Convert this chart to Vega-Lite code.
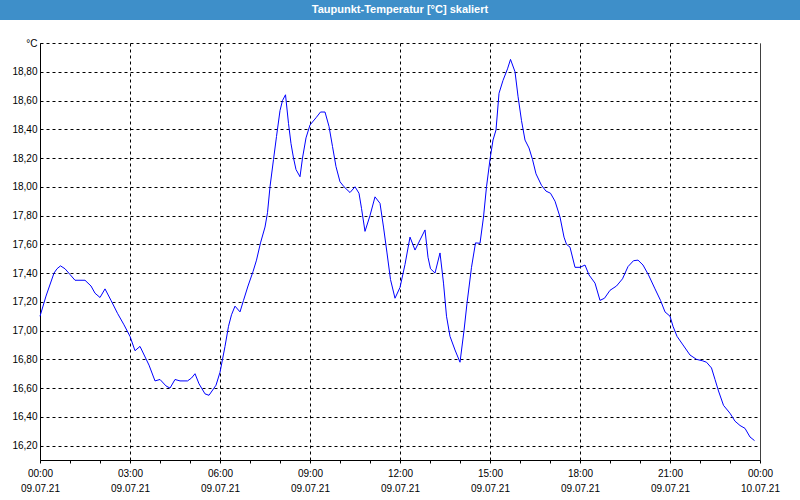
{
  "$schema": "https://vega.github.io/schema/vega-lite/v6.json",
  "width": 720,
  "height": 417,
  "autosize": {"type": "none"},
  "padding": {"left": 40, "top": 43, "right": 40, "bottom": 40},
  "background": "white",
  "title": {
    "text": "Taupunkt-Temperatur [°C] skaliert",
    "color": "white",
    "font": "Liberation Sans",
    "fontSize": 11,
    "fontWeight": "bold",
    "anchor": "middle",
    "offset": -15
  },
  "data": {
    "values": [
      {"t": "2021-07-09T00:00:00Z", "v": 17.10},
      {"t": "2021-07-09T00:12:00Z", "v": 17.24},
      {"t": "2021-07-09T00:28:00Z", "v": 17.40},
      {"t": "2021-07-09T00:34:00Z", "v": 17.43},
      {"t": "2021-07-09T00:41:00Z", "v": 17.45},
      {"t": "2021-07-09T00:50:00Z", "v": 17.43},
      {"t": "2021-07-09T01:00:00Z", "v": 17.39},
      {"t": "2021-07-09T01:10:00Z", "v": 17.35},
      {"t": "2021-07-09T01:30:00Z", "v": 17.35},
      {"t": "2021-07-09T01:42:00Z", "v": 17.31},
      {"t": "2021-07-09T01:50:00Z", "v": 17.26},
      {"t": "2021-07-09T02:00:00Z", "v": 17.23},
      {"t": "2021-07-09T02:10:00Z", "v": 17.29},
      {"t": "2021-07-09T02:22:00Z", "v": 17.21},
      {"t": "2021-07-09T02:35:00Z", "v": 17.12},
      {"t": "2021-07-09T02:48:00Z", "v": 17.04},
      {"t": "2021-07-09T03:00:00Z", "v": 16.96},
      {"t": "2021-07-09T03:10:00Z", "v": 16.86},
      {"t": "2021-07-09T03:20:00Z", "v": 16.89},
      {"t": "2021-07-09T03:38:00Z", "v": 16.76},
      {"t": "2021-07-09T03:50:00Z", "v": 16.65},
      {"t": "2021-07-09T04:00:00Z", "v": 16.66},
      {"t": "2021-07-09T04:12:00Z", "v": 16.615},
      {"t": "2021-07-09T04:20:00Z", "v": 16.60},
      {"t": "2021-07-09T04:30:00Z", "v": 16.66},
      {"t": "2021-07-09T04:40:00Z", "v": 16.65},
      {"t": "2021-07-09T04:55:00Z", "v": 16.65},
      {"t": "2021-07-09T05:03:00Z", "v": 16.67},
      {"t": "2021-07-09T05:10:00Z", "v": 16.70},
      {"t": "2021-07-09T05:18:00Z", "v": 16.63},
      {"t": "2021-07-09T05:30:00Z", "v": 16.56},
      {"t": "2021-07-09T05:38:00Z", "v": 16.55},
      {"t": "2021-07-09T05:52:00Z", "v": 16.62},
      {"t": "2021-07-09T06:00:00Z", "v": 16.71},
      {"t": "2021-07-09T06:10:00Z", "v": 16.89},
      {"t": "2021-07-09T06:17:00Z", "v": 17.03},
      {"t": "2021-07-09T06:23:00Z", "v": 17.11},
      {"t": "2021-07-09T06:30:00Z", "v": 17.17},
      {"t": "2021-07-09T06:40:00Z", "v": 17.13},
      {"t": "2021-07-09T06:47:00Z", "v": 17.21},
      {"t": "2021-07-09T06:56:00Z", "v": 17.31},
      {"t": "2021-07-09T07:06:00Z", "v": 17.41},
      {"t": "2021-07-09T07:13:00Z", "v": 17.49},
      {"t": "2021-07-09T07:21:00Z", "v": 17.61},
      {"t": "2021-07-09T07:30:00Z", "v": 17.72},
      {"t": "2021-07-09T07:35:00Z", "v": 17.82},
      {"t": "2021-07-09T07:40:00Z", "v": 18.00},
      {"t": "2021-07-09T07:47:00Z", "v": 18.19},
      {"t": "2021-07-09T07:53:00Z", "v": 18.35},
      {"t": "2021-07-09T08:00:00Z", "v": 18.53},
      {"t": "2021-07-09T08:05:00Z", "v": 18.60},
      {"t": "2021-07-09T08:11:00Z", "v": 18.64},
      {"t": "2021-07-09T08:17:00Z", "v": 18.44},
      {"t": "2021-07-09T08:22:00Z", "v": 18.30},
      {"t": "2021-07-09T08:27:00Z", "v": 18.20},
      {"t": "2021-07-09T08:32:00Z", "v": 18.12},
      {"t": "2021-07-09T08:40:00Z", "v": 18.07},
      {"t": "2021-07-09T08:45:00Z", "v": 18.20},
      {"t": "2021-07-09T08:52:00Z", "v": 18.34},
      {"t": "2021-07-09T09:00:00Z", "v": 18.43},
      {"t": "2021-07-09T09:12:00Z", "v": 18.48},
      {"t": "2021-07-09T09:21:00Z", "v": 18.52},
      {"t": "2021-07-09T09:30:00Z", "v": 18.52},
      {"t": "2021-07-09T09:38:00Z", "v": 18.42},
      {"t": "2021-07-09T09:45:00Z", "v": 18.28},
      {"t": "2021-07-09T09:52:00Z", "v": 18.14},
      {"t": "2021-07-09T10:00:00Z", "v": 18.035},
      {"t": "2021-07-09T10:08:00Z", "v": 18.00},
      {"t": "2021-07-09T10:20:00Z", "v": 17.96},
      {"t": "2021-07-09T10:30:00Z", "v": 18.00},
      {"t": "2021-07-09T10:38:00Z", "v": 17.955},
      {"t": "2021-07-09T10:43:00Z", "v": 17.85},
      {"t": "2021-07-09T10:50:00Z", "v": 17.69},
      {"t": "2021-07-09T11:00:00Z", "v": 17.80},
      {"t": "2021-07-09T11:10:00Z", "v": 17.93},
      {"t": "2021-07-09T11:20:00Z", "v": 17.885},
      {"t": "2021-07-09T11:27:00Z", "v": 17.72},
      {"t": "2021-07-09T11:34:00Z", "v": 17.54},
      {"t": "2021-07-09T11:41:00Z", "v": 17.355},
      {"t": "2021-07-09T11:50:00Z", "v": 17.225},
      {"t": "2021-07-09T12:00:00Z", "v": 17.30},
      {"t": "2021-07-09T12:10:00Z", "v": 17.46},
      {"t": "2021-07-09T12:20:00Z", "v": 17.65},
      {"t": "2021-07-09T12:30:00Z", "v": 17.56},
      {"t": "2021-07-09T12:40:00Z", "v": 17.63},
      {"t": "2021-07-09T12:50:00Z", "v": 17.70},
      {"t": "2021-07-09T12:56:00Z", "v": 17.51},
      {"t": "2021-07-09T13:01:00Z", "v": 17.43},
      {"t": "2021-07-09T13:10:00Z", "v": 17.40},
      {"t": "2021-07-09T13:20:00Z", "v": 17.54},
      {"t": "2021-07-09T13:27:00Z", "v": 17.33},
      {"t": "2021-07-09T13:33:00Z", "v": 17.10},
      {"t": "2021-07-09T13:40:00Z", "v": 16.96},
      {"t": "2021-07-09T13:50:00Z", "v": 16.865},
      {"t": "2021-07-09T14:00:00Z", "v": 16.78},
      {"t": "2021-07-09T14:08:00Z", "v": 17.00},
      {"t": "2021-07-09T14:14:00Z", "v": 17.19},
      {"t": "2021-07-09T14:23:00Z", "v": 17.44},
      {"t": "2021-07-09T14:31:00Z", "v": 17.61},
      {"t": "2021-07-09T14:40:00Z", "v": 17.607},
      {"t": "2021-07-09T14:47:00Z", "v": 17.79},
      {"t": "2021-07-09T14:53:00Z", "v": 18.00},
      {"t": "2021-07-09T15:00:00Z", "v": 18.19},
      {"t": "2021-07-09T15:06:00Z", "v": 18.325},
      {"t": "2021-07-09T15:12:00Z", "v": 18.395},
      {"t": "2021-07-09T15:18:00Z", "v": 18.65},
      {"t": "2021-07-09T15:26:00Z", "v": 18.74},
      {"t": "2021-07-09T15:35:00Z", "v": 18.82},
      {"t": "2021-07-09T15:41:00Z", "v": 18.886},
      {"t": "2021-07-09T15:50:00Z", "v": 18.80},
      {"t": "2021-07-09T15:56:00Z", "v": 18.63},
      {"t": "2021-07-09T16:03:00Z", "v": 18.46},
      {"t": "2021-07-09T16:10:00Z", "v": 18.325},
      {"t": "2021-07-09T16:18:00Z", "v": 18.27},
      {"t": "2021-07-09T16:25:00Z", "v": 18.19},
      {"t": "2021-07-09T16:32:00Z", "v": 18.09},
      {"t": "2021-07-09T16:43:00Z", "v": 18.01},
      {"t": "2021-07-09T16:52:00Z", "v": 17.97},
      {"t": "2021-07-09T17:01:00Z", "v": 17.955},
      {"t": "2021-07-09T17:10:00Z", "v": 17.90},
      {"t": "2021-07-09T17:20:00Z", "v": 17.79},
      {"t": "2021-07-09T17:28:00Z", "v": 17.65},
      {"t": "2021-07-09T17:33:00Z", "v": 17.60},
      {"t": "2021-07-09T17:40:00Z", "v": 17.58},
      {"t": "2021-07-09T17:50:00Z", "v": 17.44},
      {"t": "2021-07-09T18:00:00Z", "v": 17.44},
      {"t": "2021-07-09T18:10:00Z", "v": 17.456},
      {"t": "2021-07-09T18:18:00Z", "v": 17.387},
      {"t": "2021-07-09T18:30:00Z", "v": 17.33},
      {"t": "2021-07-09T18:40:00Z", "v": 17.21},
      {"t": "2021-07-09T18:49:00Z", "v": 17.225},
      {"t": "2021-07-09T19:00:00Z", "v": 17.28},
      {"t": "2021-07-09T19:13:00Z", "v": 17.31},
      {"t": "2021-07-09T19:25:00Z", "v": 17.36},
      {"t": "2021-07-09T19:36:00Z", "v": 17.445},
      {"t": "2021-07-09T19:47:00Z", "v": 17.486},
      {"t": "2021-07-09T19:56:00Z", "v": 17.49},
      {"t": "2021-07-09T20:06:00Z", "v": 17.456},
      {"t": "2021-07-09T20:17:00Z", "v": 17.387},
      {"t": "2021-07-09T20:30:00Z", "v": 17.29},
      {"t": "2021-07-09T20:41:00Z", "v": 17.21},
      {"t": "2021-07-09T20:50:00Z", "v": 17.13},
      {"t": "2021-07-09T21:00:00Z", "v": 17.10},
      {"t": "2021-07-09T21:06:00Z", "v": 17.03},
      {"t": "2021-07-09T21:14:00Z", "v": 16.96},
      {"t": "2021-07-09T21:26:00Z", "v": 16.90},
      {"t": "2021-07-09T21:40:00Z", "v": 16.83},
      {"t": "2021-07-09T21:53:00Z", "v": 16.80},
      {"t": "2021-07-09T22:05:00Z", "v": 16.79},
      {"t": "2021-07-09T22:13:00Z", "v": 16.78},
      {"t": "2021-07-09T22:23:00Z", "v": 16.74},
      {"t": "2021-07-09T22:30:00Z", "v": 16.66},
      {"t": "2021-07-09T22:37:00Z", "v": 16.58},
      {"t": "2021-07-09T22:47:00Z", "v": 16.48},
      {"t": "2021-07-09T23:00:00Z", "v": 16.425},
      {"t": "2021-07-09T23:10:00Z", "v": 16.37},
      {"t": "2021-07-09T23:20:00Z", "v": 16.34},
      {"t": "2021-07-09T23:30:00Z", "v": 16.32},
      {"t": "2021-07-09T23:40:00Z", "v": 16.26},
      {"t": "2021-07-09T23:49:00Z", "v": 16.235}
    ]
  },
  "encoding": {
    "x": {
      "field": "t",
      "type": "temporal",
      "scale": {"type": "utc", "domain": [1625788800000, 1625875200000]},
      "axis": {
        "title": null,
        "values": [1625788800000, 1625792400000, 1625796000000, 1625799600000, 1625803200000, 1625806800000, 1625810400000, 1625814000000, 1625817600000, 1625821200000, 1625824800000, 1625828400000, 1625832000000, 1625835600000, 1625839200000, 1625842800000, 1625846400000, 1625850000000, 1625853600000, 1625857200000, 1625860800000, 1625864400000, 1625868000000, 1625871600000, 1625875200000],
        "labelExpr": "utchours(datum.value) % 3 == 0 ? [utcFormat(datum.value, '%H:%M'), utcFormat(datum.value, '%d.%m.%y')] : ''",
        "labelOverlap": false,
        "labelFlush": false,
        "labelBound": false,
        "labelFont": "Liberation Sans",
        "labelFontSize": 10,
        "labelColor": "black",
        "labelLineHeight": 15,
        "labelPadding": 5,
        "tickSize": 3,
        "tickColor": "black",
        "domainColor": "black",
        "grid": true,
        "gridColor": "black",
        "gridDash": {"condition": {"test": "+datum.value >= 1625875200000", "value": [1, 0]}, "value": [3, 3]},
        "gridOpacity": {"condition": {"test": "utchours(datum.value) % 3 == 0", "value": 1}, "value": 0}
      }
    },
    "y": {
      "field": "v",
      "type": "quantitative",
      "scale": {"domain": [16.1, 19.0], "nice": false, "zero": false},
      "axis": {
        "title": null,
        "values": [16.2, 16.4, 16.6, 16.8, 17.0, 17.2, 17.4, 17.6, 17.8, 18.0, 18.2, 18.4, 18.6, 18.8, 19.0],
        "labelExpr": "datum.value > 18.9 ? '°C' : replace(format(datum.value, '.2f'), '.', ',')",
        "ticks": false,
        "labelPadding": 3,
        "labelFont": "Liberation Sans",
        "labelFontSize": 10,
        "labelColor": "black",
        "domainColor": "black",
        "grid": true,
        "gridColor": "black",
        "gridDash": [3, 3]
      }
    }
  },
  "layer": [
    {
      "mark": {"type": "line", "color": "#0000ff", "strokeWidth": 1}
    },
    {
      "mark": {"type": "point", "size": 0, "strokeWidth": 0, "filled": false, "opacity": 1},
      "encoding": {
        "color": {
          "field": "v",
          "type": "quantitative",
          "scale": {"range": ["#3e8fc9", "#3e8fc9"]},
          "legend": {
            "orient": "none",
            "legendX": -40,
            "legendY": -43,
            "direction": "horizontal",
            "gradientLength": 800,
            "gradientThickness": 20,
            "gradientStrokeWidth": 0,
            "title": null,
            "padding": 0,
            "labelOpacity": 0,
            "labelExpr": "''"
          }
        }
      }
    }
  ],
  "config": {
    "view": {"stroke": null}
  }
}
